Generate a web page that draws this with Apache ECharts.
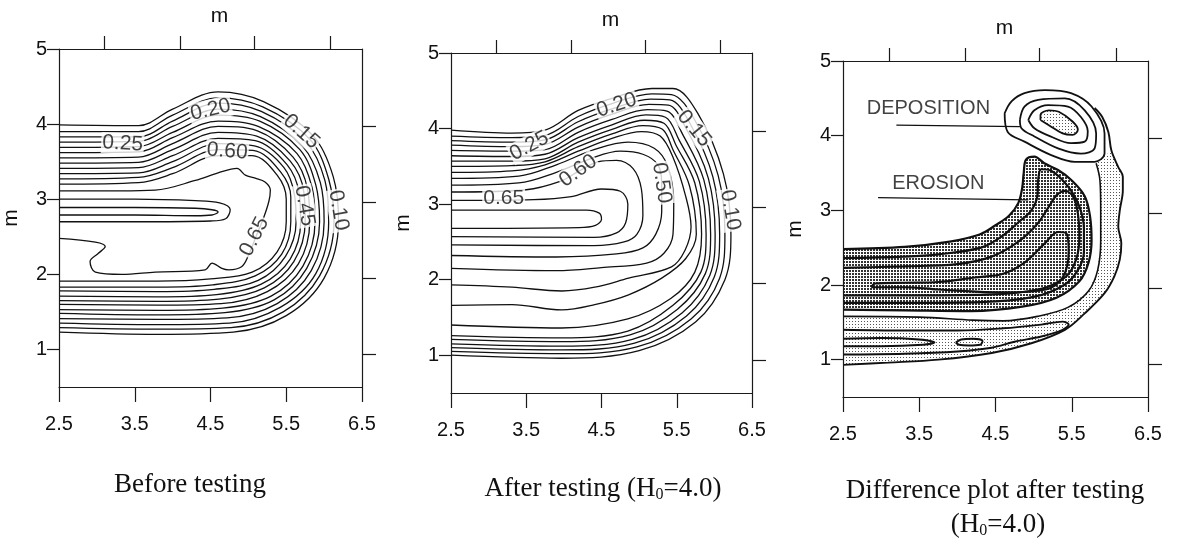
<!DOCTYPE html>
<html>
<head>
<meta charset="utf-8">
<script src="https://cdn.jsdelivr.net/npm/echarts@6.0.0/dist/echarts.min.js"></script>
<style>
  html, body { margin: 0; background: #fff; }
  #chart { width: 1178px; height: 542px; }
</style>
</head>
<body>
<div id="chart"></div>
<script>
// ---- axis ticks
const xTicks = [2.5, 3.5, 4.5, 5.5, 6.5];
const yTicks = [1, 2, 3, 4, 5];
const topTicks = [3.1, 4.1, 5.08, 6.08];
const rightTicks = [0.94, 1.95, 2.96, 3.97];

// ---- panel 1: before testing, contour lines as [x, y] in metres
const beforeBands = [
  [[2.5,3.99],[3.55,3.98],[4.0,4.20],[4.6,4.43],[5.20,4.30],[5.85,3.85],[6.12,3.30],[6.19,2.70],[6.00,1.95],[5.50,1.45],[4.80,1.23],[3.8,1.20],[2.5,1.23]],
  [[2.5,3.90],[3.55,3.90],[4.0,4.12],[4.6,4.35],[5.19,4.23],[5.81,3.80],[6.06,3.27],[6.13,2.70],[5.94,1.98],[5.46,1.50],[4.77,1.29],[3.8,1.27],[2.5,1.29]],
  [[2.5,3.83],[3.55,3.83],[4.0,4.04],[4.6,4.28],[5.17,4.17],[5.77,3.75],[6.01,3.25],[6.06,2.70],[5.89,2.01],[5.42,1.56],[4.75,1.35],[3.8,1.33],[2.5,1.35]],
  [[2.5,3.76],[3.55,3.77],[4.0,3.97],[4.6,4.20],[5.16,4.10],[5.72,3.70],[5.95,3.22],[6.00,2.70],[5.83,2.05],[5.38,1.61],[4.72,1.42],[3.8,1.40],[2.5,1.41]],
  [[2.5,3.69],[3.55,3.70],[4.0,3.89],[4.6,4.12],[5.15,4.04],[5.68,3.66],[5.89,3.19],[5.94,2.70],[5.77,2.08],[5.34,1.66],[4.69,1.49],[3.8,1.46],[2.5,1.48]],
  [[2.5,3.62],[3.55,3.63],[4.0,3.82],[4.6,4.04],[5.13,3.97],[5.64,3.61],[5.84,3.16],[5.88,2.70],[5.72,2.11],[5.30,1.71],[4.66,1.55],[3.8,1.52],[2.5,1.53]],
  [[2.5,3.55],[3.55,3.56],[4.0,3.74],[4.6,3.97],[5.12,3.91],[5.59,3.56],[5.78,3.14],[5.81,2.70],[5.66,2.14],[5.25,1.77],[4.64,1.61],[3.8,1.59],[2.5,1.60]],
  [[2.5,3.48],[3.55,3.49],[4.0,3.66],[4.6,3.89],[5.11,3.84],[5.55,3.51],[5.73,3.11],[5.75,2.70],[5.60,2.17],[5.21,1.82],[4.61,1.67],[3.8,1.64],[2.5,1.65]],
  [[2.5,3.41],[3.55,3.42],[4.0,3.58],[4.6,3.81],[5.09,3.78],[5.51,3.46],[5.67,3.08],[5.69,2.70],[5.55,2.20],[5.17,1.87],[4.58,1.73],[3.8,1.70],[2.5,1.71]],
  [[2.5,3.34],[3.55,3.35],[4.0,3.50],[4.6,3.74],[5.08,3.71],[5.47,3.42],[5.61,3.05],[5.63,2.70],[5.49,2.24],[5.13,1.92],[4.55,1.80],[3.8,1.77],[2.5,1.78]],
  [[2.5,3.27],[3.55,3.29],[4.0,3.42],[4.6,3.66],[5.06,3.65],[5.42,3.37],[5.56,3.03],[5.56,2.70],[5.44,2.27],[5.09,1.98],[4.53,1.86],[3.8,1.83],[2.5,1.83]],
  [[2.5,3.20],[3.55,3.22],[4.0,3.34],[4.6,3.58],[5.05,3.58],[5.38,3.32],[5.50,3.00],[5.50,2.70],[5.38,2.30],[5.05,2.03],[4.50,1.94],[3.8,1.91],[2.5,1.91]]
];
const beforeCore = [[2.5,3.11],[3.3,3.11],[3.77,3.12],[4.3,3.25],[4.6,3.35],[4.85,3.41],[4.96,3.32],[5.09,3.28],[5.22,3.23],[5.29,3.12],[5.27,2.97],[5.2,2.75],[5.1,2.5],[5.0,2.25],[4.91,2.10],[4.74,2.06],[4.65,2.08],[4.52,2.15],[4.43,2.06],[3.77,2.03],[3.33,2.0],[2.98,2.03],[2.91,2.17],[3.02,2.28],[3.11,2.37],[2.98,2.43],[2.5,2.48]];
const beforeTongue = [
  [[2.5,3.0],[3.5,3.0],[4.3,2.98],[4.62,2.95],[4.76,2.86],[4.7,2.74],[4.5,2.71],[3.5,2.70],[2.5,2.70]],
  [[2.5,2.89],[3.5,2.89],[4.3,2.88],[4.52,2.86],[4.6,2.83],[4.52,2.79],[4.3,2.78],[3.5,2.79],[2.5,2.79]]
];
const beforeTags = [[6.19,2.85,'0.10'],[5.70,3.90,'0.15'],[4.50,4.19,'0.20'],[3.34,3.74,'0.25'],[5.74,2.91,'0.45'],[4.72,3.64,'0.60'],[5.08,2.50,'0.65']];

// ---- panel 2: after testing
const afterBands = [
  [[2.5,3.98],[3.31,3.94],[3.75,3.98],[4.19,4.24],[4.64,4.40],[5.17,4.53],[5.45,4.53],[5.78,4.2],[6.12,3.4],[6.22,2.6],[6.14,2.0],[5.75,1.44],[5.0,1.06],[3.97,0.96],[2.5,1.0]],
  [[2.5,3.90],[3.31,3.88],[3.75,3.91],[4.19,4.16],[4.64,4.33],[5.17,4.46],[5.43,4.45],[5.73,4.13],[6.05,3.38],[6.14,2.6],[6.07,2.02],[5.69,1.48],[4.97,1.11],[3.97,1.02],[2.5,1.05]],
  [[2.5,3.84],[3.31,3.82],[3.75,3.85],[4.19,4.09],[4.64,4.26],[5.15,4.39],[5.41,4.38],[5.68,4.06],[5.98,3.36],[6.07,2.6],[6.0,2.04],[5.63,1.52],[4.94,1.16],[3.97,1.07],[2.5,1.10]],
  [[2.5,3.78],[3.31,3.76],[3.75,3.79],[4.19,4.02],[4.64,4.19],[5.13,4.32],[5.39,4.31],[5.63,3.99],[5.92,3.34],[6.01,2.6],[5.94,2.06],[5.57,1.56],[4.91,1.21],[3.97,1.12],[2.5,1.15]],
  [[2.5,3.71],[3.31,3.70],[3.75,3.72],[4.19,3.95],[4.64,4.12],[5.11,4.25],[5.37,4.23],[5.58,3.92],[5.86,3.32],[5.95,2.6],[5.88,2.08],[5.51,1.61],[4.88,1.27],[3.97,1.18],[2.5,1.21]],
  [[2.5,3.64],[3.31,3.63],[3.75,3.66],[4.19,3.88],[4.64,4.05],[5.09,4.18],[5.35,4.15],[5.53,3.85],[5.80,3.30],[5.89,2.6],[5.82,2.10],[5.45,1.66],[4.85,1.32],[3.97,1.23],[2.5,1.26]],
  [[2.5,3.57],[3.31,3.57],[3.75,3.60],[4.19,3.82],[4.64,3.99],[5.07,4.11],[5.33,4.07],[5.49,3.78],[5.74,3.28],[5.83,2.6],[5.74,2.1],[5.42,1.75],[4.85,1.48],[3.97,1.36],[2.5,1.40]],
  [[2.5,3.50],[3.31,3.51],[3.75,3.56],[4.19,3.76],[4.64,3.93],[5.05,4.04],[5.31,3.99],[5.45,3.72],[5.67,3.24],[5.76,2.6],[5.62,2.28],[5.3,2.02],[4.86,1.8],[4.41,1.67],[3.97,1.60],[3.31,1.67],[2.5,1.66]],
  [[2.5,3.42],[3.31,3.44],[3.75,3.52],[4.19,3.70],[4.64,3.87],[5.03,3.96],[5.28,3.90],[5.45,3.62],[5.62,3.1],[5.69,2.7],[5.61,2.39],[5.43,2.17],[4.86,2.02],[4.41,1.9],[3.97,1.85],[3.31,1.9],[2.5,1.93]],
  [[2.5,3.34],[3.4,3.37],[3.9,3.52],[4.4,3.72],[4.85,3.82],[5.2,3.74],[5.38,3.5],[5.46,3.0],[5.45,2.6],[5.33,2.35],[5.1,2.22],[4.5,2.16],[3.9,2.12],[2.5,2.15]],
  [[2.5,3.25],[3.4,3.28],[3.9,3.42],[4.35,3.6],[4.75,3.7],[5.05,3.66],[5.25,3.52],[5.3,3.28],[5.3,2.9],[5.22,2.6],[5.05,2.42],[4.7,2.34],[3.9,2.3],[2.5,2.32]],
  [[2.5,3.16],[3.5,3.19],[3.95,3.3],[4.19,3.43],[4.45,3.56],[4.7,3.58],[4.92,3.47],[5.03,3.2],[5.05,2.85],[4.97,2.6],[4.8,2.5],[4.4,2.45],[2.5,2.46]],
  [[2.5,3.05],[3.6,3.06],[4.1,3.1],[4.5,3.2],[4.75,3.17],[4.85,3.0],[4.82,2.75],[4.7,2.62],[4.4,2.56],[2.5,2.57]]
];
const afterTongue = [[2.5,2.92],[4.3,2.92],[4.47,2.88],[4.5,2.8],[4.42,2.72],[4.2,2.69],[2.5,2.68]];
const afterTags = [[6.21,2.92,'0.10'],[5.73,4.0,'0.15'],[4.70,4.31,'0.20'],[3.54,3.77,'0.25'],[4.19,3.44,'0.60'],[3.20,3.08,'0.65'],[5.30,3.28,'0.50']];

// ---- panel 3: difference plot
const depRings = [
  [[5.09,4.21],[5.09,4.28],[5.2,4.34],[5.33,4.32],[5.51,4.19],[5.58,4.08],[5.51,4.01],[5.38,4.03],[5.2,4.14],[5.09,4.21]],
  [[4.93,4.21],[5.01,4.34],[5.19,4.41],[5.45,4.39],[5.62,4.25],[5.71,4.06],[5.67,3.92],[5.49,3.9],[5.22,3.99],[5.01,4.1],[4.93,4.21]],
  [[4.82,4.21],[4.88,4.39],[5.06,4.48],[5.41,4.5],[5.67,4.34],[5.82,4.03],[5.8,3.83],[5.62,3.76],[5.32,3.83],[5.01,3.99],[4.84,4.1],[4.82,4.21]],
  [[4.62,4.3],[4.71,4.46],[4.88,4.57],[5.15,4.61],[5.49,4.57],[5.76,4.39],[5.93,4.03],[5.93,3.76],[5.8,3.65],[5.54,3.65],[5.23,3.74],[4.88,3.92],[4.66,4.05],[4.62,4.3]]
];
const erosionLines = [
  [[2.5,2.48],[3.31,2.51],[3.9,2.58],[4.3,2.68],[4.5,2.8],[4.68,2.93],[4.8,3.1],[4.85,3.3],[4.87,3.5],[4.9,3.68],[5.01,3.72],[5.14,3.63],[5.32,3.54],[5.49,3.41],[5.67,3.19],[5.74,2.92],[5.76,2.6],[5.72,2.3],[5.6,2.05],[5.3,1.83],[4.85,1.71],[4.18,1.65],[3.31,1.66],[2.5,1.67]],
  [[2.5,2.36],[3.3,2.38],[3.75,2.41],[4.31,2.5],[4.58,2.65],[4.79,2.83],[4.97,3.0],[5.05,3.2],[5.06,3.41],[5.1,3.55],[5.23,3.53],[5.45,3.32],[5.6,3.05],[5.66,2.75],[5.66,2.45],[5.58,2.2],[5.4,2.0],[5.0,1.84],[4.3,1.77],[3.3,1.76],[2.5,1.76]],
  [[2.5,2.23],[3.3,2.25],[4.0,2.28],[4.45,2.38],[4.8,2.58],[5.05,2.82],[5.2,3.05],[5.3,3.2],[5.41,3.26],[5.52,3.18],[5.58,2.96],[5.6,2.65],[5.56,2.35],[5.43,2.12],[5.1,1.95],[4.4,1.87],[3.3,1.86],[2.5,1.86]],
  [[2.87,1.97],[2.92,2.02],[3.3,2.03],[3.75,2.04],[4.23,2.1],[4.6,2.15],[4.88,2.3],[5.14,2.55],[5.32,2.71],[5.43,2.69],[5.46,2.45],[5.38,2.1],[5.16,1.94],[4.62,1.9],[3.75,1.94],[3.31,1.97],[2.87,1.97]]
];
const diffOuter = [[2.5,0.93],[3.09,0.96],[3.75,1.0],[4.45,1.09],[4.97,1.22],[5.41,1.4],[5.67,1.62],[5.93,1.89],[6.06,2.12],[6.13,2.34],[6.15,2.56],[6.11,2.78],[6.13,3.0],[6.17,3.27],[6.17,3.45],[6.11,3.58],[6.02,3.8],[5.98,4.05],[5.90,4.25],[5.80,4.37]];
const diffZero = [[5.82,3.63],[5.87,3.4],[5.88,3.0],[5.88,2.6],[5.84,2.2],[5.72,1.92],[5.45,1.7],[5.05,1.58],[4.6,1.52],[4.2,1.53],[3.5,1.57],[2.5,1.58]];
const diffLower = [
  [[2.5,1.40],[3.3,1.39],[4.0,1.39],[4.6,1.42],[5.1,1.47],[5.38,1.51],[5.46,1.47],[5.38,1.40],[5.1,1.31],[4.75,1.24],[4.45,1.16],[4.0,1.11],[3.3,1.08],[2.5,1.07]],
  [[2.5,1.28],[3.0,1.29],[3.5,1.27],[3.7,1.23],[3.55,1.20],[3.0,1.18],[2.5,1.18]],
  [[3.98,1.23],[4.05,1.27],[4.2,1.28],[4.33,1.25],[4.3,1.20],[4.15,1.19],[4.02,1.2],[3.98,1.23]]
];
const diffNotes = [[3.62,4.36,'DEPOSITION'],[3.75,3.36,'EROSION']];
const diffLeaders = [[[3.2,4.14],[4.82,4.12]],[[2.96,3.17],[4.93,3.14]]];

const captionTexts = ['Before testing', 'After testing (H{s|0}=4.0)', 'Difference plot after testing', '(H{s|0}=4.0)'];

// ---- layout / style
const panels = [
  { left: 59, top: 49, width: 303, height: 338 },
  { left: 451, top: 53, width: 301, height: 340 },
  { left: 843, top: 61, width: 305, height: 336 }
];
const beforeAngles = [-80, -42, 13, -3, -80, -5, 63];
const afterAngles = [-80, -50, 18, 28, 36, 0, -82];
const captionPos = [[190, 485], [603, 489], [995, 491], [998, 525]];

const ink = '#111';
const sans = '"Liberation Sans", Arial, sans-serif';
const serif = '"Liberation Serif", "Times New Roman", serif';
const frame = { color: '#1a1a1a', width: 1.2 };

function makePattern(size, dots, color) {
  const c = document.createElement('canvas');
  c.width = size;
  c.height = size;
  const ctx = c.getContext('2d');
  ctx.fillStyle = '#fff';
  ctx.fillRect(0, 0, size, size);
  ctx.fillStyle = color;
  dots.forEach((d) => ctx.fillRect(d[0], d[1], d[2], d[2]));
  return { image: c, repeat: 'repeat' };
}
const lightDots = makePattern(3, [[0, 0, 1]], '#555');
const darkDots = makePattern(3, [[0, 0, 2]], '#333');

const xAxes = [];
const yAxes = [];
panels.forEach((p, i) => {
  xAxes.push({
    gridIndex: i, type: 'value', position: 'bottom', min: 2.5, max: 6.5, z: 10,
    axisLine: { show: true, onZero: false, lineStyle: frame },
    axisTick: { show: true, customValues: xTicks, length: 15, lineStyle: frame },
    axisLabel: { customValues: xTicks, formatter: (v) => v.toFixed(1), margin: 27, fontSize: 20, color: ink, fontFamily: sans },
    splitLine: { show: false }
  });
  xAxes.push({
    gridIndex: i, type: 'value', position: 'top', min: 2.5, max: 6.5, z: 10,
    name: 'm', nameLocation: 'middle', nameGap: 22,
    nameTextStyle: { fontSize: 21, color: ink, fontFamily: sans, padding: [0, 0, 0, 18] },
    axisLine: { show: true, onZero: false, lineStyle: frame },
    axisTick: { show: true, customValues: topTicks, length: 13, lineStyle: frame },
    axisLabel: { show: false },
    splitLine: { show: false }
  });
  yAxes.push({
    gridIndex: i, type: 'value', position: 'left', min: 0.5, max: 5, z: 10,
    name: 'm', nameLocation: 'middle', nameGap: 37,
    nameTextStyle: { fontSize: 21, color: ink, fontFamily: sans },
    axisLine: { show: true, onZero: false, lineStyle: frame },
    axisTick: { show: true, customValues: yTicks, length: 12, lineStyle: frame },
    axisLabel: { customValues: yTicks, formatter: (v) => String(v), margin: 12, fontSize: 20, color: ink, fontFamily: sans },
    splitLine: { show: false }
  });
  yAxes.push({
    gridIndex: i, type: 'value', position: 'right', min: 0.5, max: 5, z: 10,
    axisLine: { show: true, onZero: false, lineStyle: frame },
    axisTick: { show: true, customValues: rightTicks, length: 14, lineStyle: frame },
    axisLabel: { show: false },
    splitLine: { show: false }
  });
});

function contour(data, i, width) {
  return {
    type: 'line', xAxisIndex: 2 * i, yAxisIndex: 2 * i, data, symbol: 'none', showSymbol: false,
    smooth: 0.35, silent: true, animation: false, z: 3,
    lineStyle: { color: ink, width: width || 1.3 }
  };
}

function tags(list, angles, i) {
  return {
    type: 'scatter', xAxisIndex: 2 * i, yAxisIndex: 2 * i, silent: true, animation: false, z: 5,
    symbol: 'circle', symbolSize: 0.1, itemStyle: { color: 'rgba(0,0,0,0)' },
    data: list.map((d, k) => ({ value: [d[0], d[1]], name: d[2], label: { rotate: angles ? angles[k] : 0 } })),
    label: {
      show: true, position: 'inside', formatter: '{b}', color: ink, fontFamily: sans,
      fontSize: angles ? 21 : 20, backgroundColor: angles ? '#fff' : 'transparent', padding: [0, 1]
    }
  };
}

function patch(poly, i, fill, z) {
  return {
    type: 'custom', xAxisIndex: 2 * i, yAxisIndex: 2 * i, silent: true, animation: false, clip: true, z,
    data: [poly[0]],
    renderItem: (params, api) => ({
      type: 'polygon',
      shape: { points: poly.map((p) => api.coord(p)) },
      style: { fill, stroke: null }
    })
  };
}

const series = [];
beforeBands.forEach((l) => series.push(contour(l, 0)));
series.push(contour(beforeCore, 0));
beforeTongue.forEach((l) => series.push(contour(l, 0)));
series.push(tags(beforeTags, beforeAngles, 0));

afterBands.forEach((l) => series.push(contour(l, 1)));
series.push(contour(afterTongue, 1));
series.push(tags(afterTags, afterAngles, 1));

series.push(patch(diffOuter.slice(0, 17).concat(diffZero), 2, lightDots, 1));
series.push(patch(erosionLines[0], 2, darkDots, 1));
series.push(patch(depRings[0], 2, lightDots, 1));
depRings.forEach((l) => series.push(contour(l, 2, 1.8)));
erosionLines.forEach((l) => series.push(contour(l, 2, 2.2)));
series.push(contour(diffOuter, 2, 1.9));
series.push(contour(diffZero, 2, 1.6));
diffLower.forEach((l) => series.push(contour(l, 2, 1.9)));
diffLeaders.forEach((l) => {
  const s = contour(l, 2, 1.3);
  s.smooth = false;
  series.push(s);
});
series.push(tags(diffNotes, null, 2));

const chart = echarts.init(document.getElementById('chart'), null, { renderer: 'canvas' });
chart.setOption({
  backgroundColor: '#fff',
  animation: false,
  grid: panels.map((p) => Object.assign({ outerBoundsMode: 'none', containLabel: false }, p)),
  xAxis: xAxes,
  yAxis: yAxes,
  series,
  graphic: captionTexts.map((t, k) => ({
    type: 'text',
    x: captionPos[k][0],
    y: captionPos[k][1],
    silent: true,
    style: {
      text: t,
      fontSize: 27,
      fontFamily: serif,
      fill: ink,
      textAlign: 'center',
      textVerticalAlign: 'middle',
      verticalAlign: 'middle',
      rich: { s: { fontSize: 16, fontFamily: serif, lineHeight: 10, verticalAlign: 'bottom' } }
    }
  }))
});
</script>
</body>
</html>
